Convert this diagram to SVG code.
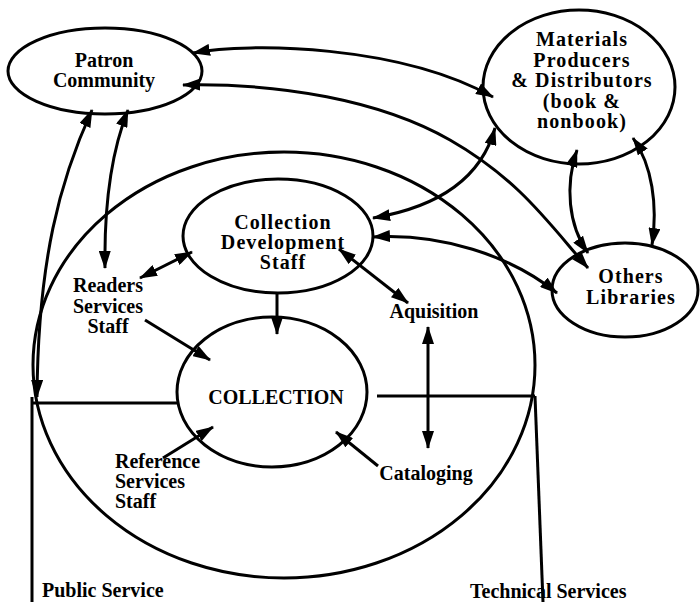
<svg xmlns="http://www.w3.org/2000/svg" width="700" height="602" viewBox="0 0 700 602">
<style>
.shape{fill:none;stroke:#000;stroke-width:3}
.ln{fill:none;stroke:#000;stroke-width:3}
.t{font-family:"Liberation Serif","Times New Roman",serif;font-weight:bold;fill:#000;font-size:20px}
.tl{letter-spacing:1.1px}
.c{text-anchor:middle}
.both{marker-start:url(#ah);marker-end:url(#ah)}
.end{marker-end:url(#ah)}
</style>
<defs>
<marker id="ah" viewBox="0 0 18 12" refX="17" refY="6" markerWidth="18" markerHeight="12" markerUnits="userSpaceOnUse" orient="auto-start-reverse">
<path d="M0,0 L18,6 L0,12 Z" fill="#000"/>
</marker>
</defs>
<rect width="700" height="602" fill="#fff"/>

<g id="frame">
<ellipse class="shape" cx="284" cy="365" rx="251" ry="213"/>
<line class="ln" x1="32" y1="403" x2="178" y2="403"/>
<line class="ln" x1="377" y1="396" x2="535" y2="396"/>
<line class="ln" x1="32" y1="397" x2="32" y2="602"/>
<line class="ln" x1="535" y1="396" x2="543" y2="602"/>
</g>

<g id="patron">
<ellipse class="shape" cx="105" cy="71" rx="97" ry="43"/>
<text class="t c" x="104" y="67">Patron</text>
<text class="t c" x="104" y="87">Community</text>
</g>

<g id="materials">
<ellipse class="shape" cx="579" cy="87" rx="96" ry="77"/>
<text class="t tl c" x="582" y="46">Materials</text>
<text class="t tl c" x="582" y="66.5">Producers</text>
<text class="t tl c" x="582" y="87">&amp; Distributors</text>
<text class="t tl c" x="582" y="107.5">(book &amp;</text>
<text class="t tl c" x="582" y="128">nonbook)</text>
</g>

<g id="others">
<ellipse class="shape" cx="625" cy="290" rx="73" ry="47"/>
<text class="t tl c" x="631" y="283">Others</text>
<text class="t tl c" x="631" y="304">Libraries</text>
</g>

<g id="colldev">
<ellipse class="shape" cx="278" cy="236" rx="95" ry="57"/>
<text class="t tl c" x="283" y="229">Collection</text>
<text class="t tl c" x="283" y="249">Development</text>
<text class="t tl c" x="283" y="269">Staff</text>
</g>

<g id="collection">
<ellipse class="shape" cx="272" cy="392" rx="95" ry="75"/>
<text class="t c" x="276" y="404">COLLECTION</text>
</g>

<g id="readers">
<text class="t c" x="108" y="292">Readers</text>
<text class="t c" x="108" y="312.5">Services</text>
<text class="t c" x="108" y="333">Staff</text>
</g>

<g id="reference">
<text class="t" x="115" y="468">Reference</text>
<text class="t" x="115" y="488">Services</text>
<text class="t" x="115" y="508">Staff</text>
</g>

<g id="aquisition">
<text class="t c" x="434" y="318">Aquisition</text>
</g>

<g id="cataloging">
<text class="t c" x="426" y="480">Cataloging</text>
</g>

<g id="public">
<text class="t" x="42" y="597">Public Service</text>
</g>

<g id="technical">
<text class="t" x="470" y="598">Technical Services</text>
</g>

<g id="connectors">
<path class="ln both" d="M193,53 C250,42 400,45 493,97"/>
<path class="ln both" d="M183,85 C280,83 380,100 450,140 C520,180 550,225 588,268"/>
<path class="ln both" d="M495,128 C478,190 420,210 373,218"/>
<path class="ln both" d="M373,237 C440,233 510,255 557,293"/>
<path class="ln both" d="M128,110 C112,150 104,200 105,268"/>
<path class="ln both" d="M92,110 C60,180 38,260 37,397"/>
<path class="ln both" d="M140,278 L192,252"/>
<path class="ln both" d="M339,249 L408,303"/>
<path class="ln end" d="M277,293 L277,334"/>
<path class="ln end" d="M145,320 L210,360"/>
<path class="ln end" d="M163,458 L213,427"/>
<path class="ln end" d="M378,466 L336,432"/>
<path class="ln both" d="M428,327 L428,448"/>
<path class="ln both" d="M577,150 C565,185 568,225 588,253"/>
<path class="ln both" d="M633,138 C652,165 658,205 652,245"/>
</g>
</svg>
